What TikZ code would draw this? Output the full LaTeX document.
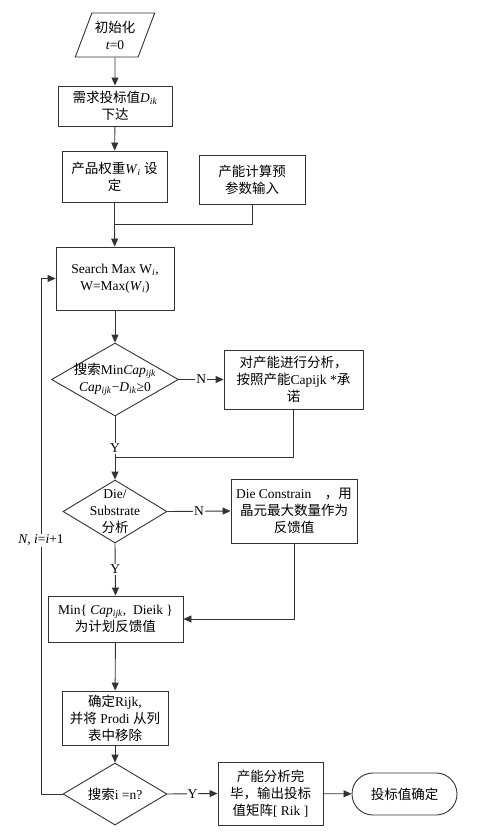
\documentclass[tikz,border=0pt]{standalone}
\usepackage{fontspec}
\setmainfont{Liberation Serif}
\newfontfamily\cjk{Noto Sans CJK SC}
\usetikzlibrary{shapes.geometric, arrows.meta}
\definecolor{lineGrey}{RGB}{51, 51, 51}
\newcommand{\zh}[1]{{\cjk #1}}
\newcommand{\isub}[2]{\textit{#1}\textsubscript{\textit{#2}}}

\begin{document}
\begin{tikzpicture} [
        x=1pt, y=-1pt,
        font=\fontsize{13.5}{17}\selectfont,
        box/.style={draw=lineGrey, line width=0.9pt, align=center, inner sep=1pt},
        dec/.style={draw=lineGrey, line width=0.9pt, diamond, inner sep=0pt},
        txt/.style={align=center, inner sep=0pt},
        lab/.style={fill=white, inner sep=1pt},
        link/.style={draw=lineGrey, line width=0.9pt},
        arr/.style={link, -{Triangle[length=8pt, width=7pt]}}
    ]
        \useasboundingbox (0,0) rectangle (483,836);

        % start and inputs
        \node[box, trapezium, trapezium left angle=63.4, trapezium right angle=116.6,
            trapezium stretches=true, minimum width=80pt, minimum height=44pt] (init) at (115,35) {\zh{初始化}\\\textit{t}=0};
        \node[box, minimum width=114pt, minimum height=40pt] (demand) at (115,106) {\zh{需求投标值}\isub{D}{ik}\\\zh{下达}};
        \node[box, minimum width=105pt, minimum height=51pt] (weight) at (114.5,176.5) {\zh{产品权重}\isub{W}{i} \zh{设}\\\zh{定}};
        \node[box, minimum width=106pt, minimum height=49pt] (param) at (252,179.5) {\zh{产能计算预}\\\zh{参数输入}};
        \coordinate (merge) at (114.5,224);

        % search loop
        \node[box, minimum width=118pt, minimum height=63pt] (search) at (115,278.5) {Search Max W\textsubscript{\textit{i}},\\W=Max(\isub{W}{i})};
        \node[dec, minimum width=127pt, minimum height=73pt] (d1) at (115,379.5) {};
        \node[txt] (d1t) at (d1) {\zh{搜索}Min\isub{Cap}{ijk}\\\isub{Cap}{ijk}−\isub{D}{ik}≥0};
        \node[box, minimum width=139pt, minimum height=59pt] (analyse) at (293.5,379.5) {\zh{对产能进行分析，}\\\zh{按照产能}Capijk *\zh{承}\\\zh{诺}};
        \coordinate (join) at (115,457);

        \node[dec, minimum width=104pt, minimum height=63pt] (d2) at (115,511.5) {};
        \node[txt] (d2t) at (d2) {Die/\\Substrate\\\zh{分析}};
        \node[box, minimum width=126pt, minimum height=64pt] (die) at (294,511) {Die Constrain\quad\zh{，用}\\\zh{晶元最大数量作为}\\\zh{反馈值}};

        \node[box, minimum width=135pt, minimum height=46pt] (minbox) at (115.5,619) {Min\{ \isub{Cap}{ijk},\ \ Dieik \}\\\zh{为计划反馈值}};
        \node[box, minimum width=106pt, minimum height=54pt] (remove) at (115,718) {\zh{确定}Rijk,\\\zh{并将} Prodi \zh{从列}\\\zh{表中移除}};
        \node[dec, minimum width=104pt, minimum height=62pt] (d3) at (115,794) {};
        \node[txt] (d3t) at (d3) {\zh{搜索}i =n?};

        % output
        \node[box, minimum width=105pt, minimum height=63pt] (output) at (270.5,793.5) {\zh{产能分析完}\\\zh{毕，输出投标}\\\zh{值矩阵}[ Rik ]};
        \node[box, minimum width=105pt, minimum height=42pt, rounded corners=21pt] (finish) at (404.5,794) {\zh{投标值确定}};
        \coordinate (back) at (41,794);

        % connectors
        \draw[arr] (init) -- (demand);
        \draw[arr] (demand) -- (weight);
        \draw[link] (weight) -- (merge);
        \draw[link] (param) |- (merge);
        \draw[arr] (merge) -- (search);
        \draw[arr] (search) -- (d1);
        \draw[arr] (d1.east) -- node[lab] (n1) {N} (analyse.west);
        \draw[link] (d1.south) -- node[lab, pos=0.78] (y1) {Y} (join);
        \draw[link] (analyse.south) |- (join);
        \draw[arr] (join) -- (d2.north);
        \draw[arr] (d2.east) -- node[lab] (n2) {N} (die.west);
        \draw[arr] (d2.south) -- node[lab] (y2) {Y} (minbox.north);
        \draw[arr] (die.south) |- (minbox.east);
        \draw[arr] (minbox) -- (remove);
        \draw[arr] (remove) -- (d3.north);
        \draw[arr] (d3.east) -- node[lab] (y3) {Y} (output.west);
        \draw[arr] (output) -- (finish);
        \draw[arr] (d3.west) -- (back) |- (search.west);
        \node[lab] (count) at (41,540) {\textit{N}, \textit{i}=\textit{i}+1};
    \end{tikzpicture}
\end{document}
